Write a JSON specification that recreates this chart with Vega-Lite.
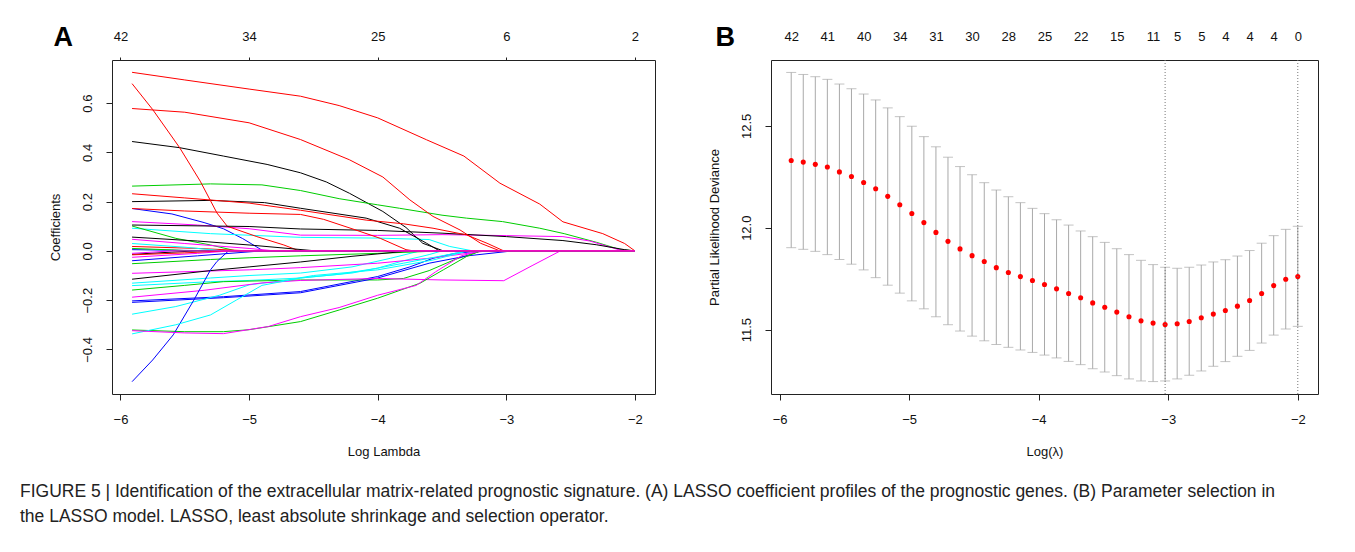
{
  "$schema": "https://vega.github.io/schema/vega-lite/v6.json",
  "background": "white",
  "padding": {"left": 20, "top": 23, "right": 5, "bottom": 10},
  "config": {
    "font": "Liberation Sans",
    "view": {"stroke": "#222", "strokeWidth": 1},
    "axis": {"labelFontSize": 13, "titleFontSize": 13, "titleFontWeight": "normal", "labelColor": "#111", "titleColor": "#111", "tickColor": "#222", "domain": false, "grid": false, "labelFont": "Liberation Sans", "titleFont": "Liberation Sans", "labelOverlap": false}
  },
  "title": {
    "text": ["FIGURE 5 | Identification of the extracellular matrix-related prognostic signature. (A) LASSO coefficient profiles of the prognostic genes. (B) Parameter selection in", "the LASSO model. LASSO, least absolute shrinkage and selection operator."],
    "orient": "bottom", "anchor": "start", "frame": "bounds", "fontSize": 17.5, "fontWeight": "normal", "lineHeight": 25, "offset": 24, "dx": -29, "color": "#222", "font": "Liberation Sans"
  },
  "spacing": 52,
  "datasets": {
    "coef": [
      {"line":"L01","col":"1","lam":-5.91,"coef":0.444},{"line":"L01","col":"1","lam":-5.54,"coef":0.419},{"line":"L01","col":"1","lam":-5.2,"coef":0.385},{"line":"L01","col":"1","lam":-4.86,"coef":0.351},{"line":"L01","col":"1","lam":-4.6,"coef":0.317},{"line":"L01","col":"1","lam":-4.4,"coef":0.28},{"line":"L01","col":"1","lam":-4.22,"coef":0.234},{"line":"L01","col":"1","lam":-3.96,"coef":0.16},{"line":"L01","col":"1","lam":-3.78,"coef":0.095},{"line":"L01","col":"1","lam":-3.65,"coef":0.031},{"line":"L01","col":"1","lam":-3.49,"coef":0},{"line":"L01","col":"1","lam":-2,"coef":0},
      {"line":"L02","col":"2","lam":-5.91,"coef":0.725},{"line":"L02","col":"2","lam":-5.5,"coef":0.694},{"line":"L02","col":"2","lam":-5.0,"coef":0.657},{"line":"L02","col":"2","lam":-4.6,"coef":0.628},{"line":"L02","col":"2","lam":-4.3,"coef":0.59},{"line":"L02","col":"2","lam":-4.0,"coef":0.54},{"line":"L02","col":"2","lam":-3.62,"coef":0.451},{"line":"L02","col":"2","lam":-3.33,"coef":0.385},{"line":"L02","col":"2","lam":-3.05,"coef":0.275},{"line":"L02","col":"2","lam":-2.74,"coef":0.19},{"line":"L02","col":"2","lam":-2.56,"coef":0.118},{"line":"L02","col":"2","lam":-2.25,"coef":0.07},{"line":"L02","col":"2","lam":-2.08,"coef":0.03},{"line":"L02","col":"2","lam":-2,"coef":0},
      {"line":"L03","col":"3","lam":-5.91,"coef":0.263},{"line":"L03","col":"3","lam":-5.3,"coef":0.272},{"line":"L03","col":"3","lam":-4.9,"coef":0.268},{"line":"L03","col":"3","lam":-4.6,"coef":0.245},{"line":"L03","col":"3","lam":-4.3,"coef":0.212},{"line":"L03","col":"3","lam":-4.0,"coef":0.187},{"line":"L03","col":"3","lam":-3.83,"coef":0.173},{"line":"L03","col":"3","lam":-3.5,"coef":0.145},{"line":"L03","col":"3","lam":-3.31,"coef":0.133},{"line":"L03","col":"3","lam":-3.03,"coef":0.119},{"line":"L03","col":"3","lam":-2.74,"coef":0.092},{"line":"L03","col":"3","lam":-2.55,"coef":0.07},{"line":"L03","col":"3","lam":-2.3,"coef":0.035},{"line":"L03","col":"3","lam":-2.12,"coef":0.006},{"line":"L03","col":"3","lam":-2,"coef":0},
      {"line":"L04","col":"4","lam":-5.91,"coef":0.172},{"line":"L04","col":"4","lam":-5.6,"coef":0.15},{"line":"L04","col":"4","lam":-5.35,"coef":0.115},{"line":"L04","col":"4","lam":-5.2,"coef":0.09},{"line":"L04","col":"4","lam":-5.05,"coef":0.05},{"line":"L04","col":"4","lam":-4.89,"coef":0},{"line":"L04","col":"4","lam":-2,"coef":0},
      {"line":"L05","col":"5","lam":-5.91,"coef":0.092},{"line":"L05","col":"5","lam":-5.3,"coef":0.07},{"line":"L05","col":"5","lam":-4.6,"coef":0.055},{"line":"L05","col":"5","lam":-4.0,"coef":0.052},{"line":"L05","col":"5","lam":-3.6,"coef":0.046},{"line":"L05","col":"5","lam":-3.44,"coef":0.018},{"line":"L05","col":"5","lam":-3.26,"coef":0},{"line":"L05","col":"5","lam":-2,"coef":0},
      {"line":"L06","col":"6","lam":-5.91,"coef":0.119},{"line":"L06","col":"6","lam":-5.4,"coef":0.105},{"line":"L06","col":"6","lam":-5.0,"coef":0.09},{"line":"L06","col":"6","lam":-4.6,"coef":0.064},{"line":"L06","col":"6","lam":-4.0,"coef":0.063},{"line":"L06","col":"6","lam":-3.5,"coef":0.066},{"line":"L06","col":"6","lam":-3.0,"coef":0.062},{"line":"L06","col":"6","lam":-2.56,"coef":0.058},{"line":"L06","col":"6","lam":-2.35,"coef":0.04},{"line":"L06","col":"6","lam":-2.12,"coef":0.004},{"line":"L06","col":"6","lam":-2,"coef":0},
      {"line":"L07","col":"1","lam":-5.91,"coef":0.2},{"line":"L07","col":"1","lam":-5.3,"coef":0.205},{"line":"L07","col":"1","lam":-4.88,"coef":0.196},{"line":"L07","col":"1","lam":-4.6,"coef":0.173},{"line":"L07","col":"1","lam":-4.09,"coef":0.133},{"line":"L07","col":"1","lam":-3.83,"coef":0.092},{"line":"L07","col":"1","lam":-3.62,"coef":0.031},{"line":"L07","col":"1","lam":-3.52,"coef":0},{"line":"L07","col":"1","lam":-2,"coef":0},
      {"line":"L08","col":"2","lam":-5.91,"coef":0.679},{"line":"L08","col":"2","lam":-5.75,"coef":0.574},{"line":"L08","col":"2","lam":-5.54,"coef":0.419},{"line":"L08","col":"2","lam":-5.38,"coef":0.283},{"line":"L08","col":"2","lam":-5.25,"coef":0.154},{"line":"L08","col":"2","lam":-5.17,"coef":0.1},{"line":"L08","col":"2","lam":-4.94,"coef":0.058},{"line":"L08","col":"2","lam":-4.73,"coef":0.024},{"line":"L08","col":"2","lam":-4.61,"coef":0},{"line":"L08","col":"2","lam":-2,"coef":0},
      {"line":"L09","col":"3","lam":-5.91,"coef":0.101},{"line":"L09","col":"3","lam":-5.57,"coef":0.051},{"line":"L09","col":"3","lam":-5.3,"coef":0.024},{"line":"L09","col":"3","lam":-5.1,"coef":0},{"line":"L09","col":"3","lam":-2,"coef":0},
      {"line":"L10","col":"4","lam":-5.91,"coef":0.005},{"line":"L10","col":"4","lam":-5.5,"coef":0.002},{"line":"L10","col":"4","lam":-5.2,"coef":0},{"line":"L10","col":"4","lam":-2,"coef":0},
      {"line":"L11","col":"5","lam":-5.91,"coef":-0.131},{"line":"L11","col":"5","lam":-5.3,"coef":-0.11},{"line":"L11","col":"5","lam":-5.0,"coef":-0.1},{"line":"L11","col":"5","lam":-4.6,"coef":-0.09},{"line":"L11","col":"5","lam":-4.2,"coef":-0.065},{"line":"L11","col":"5","lam":-3.9,"coef":-0.03},{"line":"L11","col":"5","lam":-3.67,"coef":0},{"line":"L11","col":"5","lam":-2,"coef":0},
      {"line":"L12","col":"6","lam":-5.91,"coef":0.047},{"line":"L12","col":"6","lam":-5.5,"coef":0.03},{"line":"L12","col":"6","lam":-5.0,"coef":0.01},{"line":"L12","col":"6","lam":-4.8,"coef":0},{"line":"L12","col":"6","lam":-2,"coef":0},
      {"line":"L13","col":"1","lam":-5.91,"coef":0.105},{"line":"L13","col":"1","lam":-5.0,"coef":0.099},{"line":"L13","col":"1","lam":-4.6,"coef":0.089},{"line":"L13","col":"1","lam":-4.0,"coef":0.083},{"line":"L13","col":"1","lam":-3.5,"coef":0.072},{"line":"L13","col":"1","lam":-3.0,"coef":0.058},{"line":"L13","col":"1","lam":-2.56,"coef":0.042},{"line":"L13","col":"1","lam":-2.3,"coef":0.025},{"line":"L13","col":"1","lam":-2.08,"coef":0.005},{"line":"L13","col":"1","lam":-2,"coef":0},
      {"line":"L14","col":"2","lam":-5.91,"coef":0.578},{"line":"L14","col":"2","lam":-5.5,"coef":0.563},{"line":"L14","col":"2","lam":-5.0,"coef":0.52},{"line":"L14","col":"2","lam":-4.6,"coef":0.452},{"line":"L14","col":"2","lam":-4.22,"coef":0.37},{"line":"L14","col":"2","lam":-3.96,"coef":0.3},{"line":"L14","col":"2","lam":-3.75,"coef":0.207},{"line":"L14","col":"2","lam":-3.57,"coef":0.14},{"line":"L14","col":"2","lam":-3.36,"coef":0.085},{"line":"L14","col":"2","lam":-3.2,"coef":0.031},{"line":"L14","col":"2","lam":-3.05,"coef":0},{"line":"L14","col":"2","lam":-2,"coef":0},
      {"line":"L15","col":"3","lam":-5.91,"coef":-0.052},{"line":"L15","col":"3","lam":-5.3,"coef":-0.035},{"line":"L15","col":"3","lam":-5.0,"coef":-0.028},{"line":"L15","col":"3","lam":-4.6,"coef":-0.02},{"line":"L15","col":"3","lam":-4.0,"coef":-0.01},{"line":"L15","col":"3","lam":-3.5,"coef":0},{"line":"L15","col":"3","lam":-2,"coef":0},
      {"line":"L16","col":"4","lam":-5.91,"coef":-0.203},{"line":"L16","col":"4","lam":-5.2,"coef":-0.186},{"line":"L16","col":"4","lam":-4.6,"coef":-0.165},{"line":"L16","col":"4","lam":-4.0,"coef":-0.104},{"line":"L16","col":"4","lam":-3.75,"coef":-0.065},{"line":"L16","col":"4","lam":-3.57,"coef":-0.03},{"line":"L16","col":"4","lam":-3.4,"coef":-0.01},{"line":"L16","col":"4","lam":-3.2,"coef":0},{"line":"L16","col":"4","lam":-2,"coef":0},
      {"line":"L17","col":"5","lam":-5.91,"coef":-0.141},{"line":"L17","col":"5","lam":-5.3,"coef":-0.125},{"line":"L17","col":"5","lam":-5.0,"coef":-0.12},{"line":"L17","col":"5","lam":-4.6,"coef":-0.11},{"line":"L17","col":"5","lam":-4.3,"coef":-0.095},{"line":"L17","col":"5","lam":-4.0,"coef":-0.07},{"line":"L17","col":"5","lam":-3.8,"coef":-0.04},{"line":"L17","col":"5","lam":-3.6,"coef":-0.015},{"line":"L17","col":"5","lam":-3.5,"coef":0},{"line":"L17","col":"5","lam":-2,"coef":0},
      {"line":"L18","col":"6","lam":-5.91,"coef":-0.091},{"line":"L18","col":"6","lam":-5.0,"coef":-0.077},{"line":"L18","col":"6","lam":-4.6,"coef":-0.068},{"line":"L18","col":"6","lam":-4.0,"coef":-0.05},{"line":"L18","col":"6","lam":-3.6,"coef":-0.03},{"line":"L18","col":"6","lam":-3.3,"coef":-0.01},{"line":"L18","col":"6","lam":-3.15,"coef":0},{"line":"L18","col":"6","lam":-2,"coef":0},
      {"line":"L19","col":"1","lam":-5.91,"coef":0.056},{"line":"L19","col":"1","lam":-5.4,"coef":0.04},{"line":"L19","col":"1","lam":-5.0,"coef":0.024},{"line":"L19","col":"1","lam":-4.48,"coef":0},{"line":"L19","col":"1","lam":-2,"coef":0},
      {"line":"L20","col":"2","lam":-5.91,"coef":0.232},{"line":"L20","col":"2","lam":-5.5,"coef":0.215},{"line":"L20","col":"2","lam":-5.0,"coef":0.194},{"line":"L20","col":"2","lam":-4.6,"coef":0.165},{"line":"L20","col":"2","lam":-4.09,"coef":0.125},{"line":"L20","col":"2","lam":-3.8,"coef":0.11},{"line":"L20","col":"2","lam":-3.57,"coef":0.092},{"line":"L20","col":"2","lam":-3.31,"coef":0.065},{"line":"L20","col":"2","lam":-3.15,"coef":0.031},{"line":"L20","col":"2","lam":-3.02,"coef":0},{"line":"L20","col":"2","lam":-2,"coef":0},
      {"line":"L21","col":"3","lam":-5.91,"coef":-0.159},{"line":"L21","col":"3","lam":-5.5,"coef":-0.14},{"line":"L21","col":"3","lam":-5.2,"coef":-0.125},{"line":"L21","col":"3","lam":-4.6,"coef":-0.118},{"line":"L21","col":"3","lam":-4.0,"coef":-0.118},{"line":"L21","col":"3","lam":-3.8,"coef":-0.112},{"line":"L21","col":"3","lam":-3.6,"coef":-0.08},{"line":"L21","col":"3","lam":-3.4,"coef":-0.035},{"line":"L21","col":"3","lam":-3.2,"coef":0},{"line":"L21","col":"3","lam":-2,"coef":0},
      {"line":"L22","col":"4","lam":-5.91,"coef":-0.209},{"line":"L22","col":"4","lam":-5.2,"coef":-0.19},{"line":"L22","col":"4","lam":-4.6,"coef":-0.17},{"line":"L22","col":"4","lam":-4.0,"coef":-0.11},{"line":"L22","col":"4","lam":-3.6,"coef":-0.05},{"line":"L22","col":"4","lam":-3.3,"coef":-0.02},{"line":"L22","col":"4","lam":-2.95,"coef":0},{"line":"L22","col":"4","lam":-2,"coef":0},
      {"line":"L23","col":"5","lam":-5.91,"coef":-0.257},{"line":"L23","col":"5","lam":-5.57,"coef":-0.226},{"line":"L23","col":"5","lam":-5.23,"coef":-0.18},{"line":"L23","col":"5","lam":-5.0,"coef":-0.138},{"line":"L23","col":"5","lam":-4.7,"coef":-0.118},{"line":"L23","col":"5","lam":-4.5,"coef":-0.1},{"line":"L23","col":"5","lam":-4.0,"coef":-0.077},{"line":"L23","col":"5","lam":-3.57,"coef":-0.037},{"line":"L23","col":"5","lam":-3.3,"coef":0},{"line":"L23","col":"5","lam":-2,"coef":0},
      {"line":"L24","col":"6","lam":-5.91,"coef":-0.188},{"line":"L24","col":"6","lam":-5.35,"coef":-0.16},{"line":"L24","col":"6","lam":-4.9,"coef":-0.13},{"line":"L24","col":"6","lam":-4.6,"coef":-0.12},{"line":"L24","col":"6","lam":-4.0,"coef":-0.112},{"line":"L24","col":"6","lam":-3.5,"coef":-0.118},{"line":"L24","col":"6","lam":-3.02,"coef":-0.121},{"line":"L24","col":"6","lam":-2.8,"coef":-0.06},{"line":"L24","col":"6","lam":-2.58,"coef":0},{"line":"L24","col":"6","lam":-2,"coef":0},
      {"line":"L25","col":"1","lam":-5.91,"coef":-0.115},{"line":"L25","col":"1","lam":-5.3,"coef":-0.08},{"line":"L25","col":"1","lam":-5.0,"coef":-0.065},{"line":"L25","col":"1","lam":-4.6,"coef":-0.045},{"line":"L25","col":"1","lam":-4.2,"coef":-0.022},{"line":"L25","col":"1","lam":-3.75,"coef":0},{"line":"L25","col":"1","lam":-2,"coef":0},
      {"line":"L26","col":"2","lam":-5.91,"coef":0.018},{"line":"L26","col":"2","lam":-5.4,"coef":0.01},{"line":"L26","col":"2","lam":-5.0,"coef":0},{"line":"L26","col":"2","lam":-2,"coef":0},
      {"line":"L27","col":"3","lam":-5.91,"coef":-0.321},{"line":"L27","col":"3","lam":-5.5,"coef":-0.328},{"line":"L27","col":"3","lam":-5.2,"coef":-0.328},{"line":"L27","col":"3","lam":-5.0,"coef":-0.32},{"line":"L27","col":"3","lam":-4.6,"coef":-0.287},{"line":"L27","col":"3","lam":-4.3,"coef":-0.24},{"line":"L27","col":"3","lam":-4.0,"coef":-0.192},{"line":"L27","col":"3","lam":-3.67,"coef":-0.131},{"line":"L27","col":"3","lam":-3.49,"coef":-0.077},{"line":"L27","col":"3","lam":-3.31,"coef":-0.023},{"line":"L27","col":"3","lam":-3.2,"coef":0},{"line":"L27","col":"3","lam":-2,"coef":0},
      {"line":"L28","col":"4","lam":-5.91,"coef":-0.531},{"line":"L28","col":"4","lam":-5.75,"coef":-0.443},{"line":"L28","col":"4","lam":-5.59,"coef":-0.341},{"line":"L28","col":"4","lam":-5.43,"coef":-0.2},{"line":"L28","col":"4","lam":-5.3,"coef":-0.077},{"line":"L28","col":"4","lam":-5.25,"coef":-0.043},{"line":"L28","col":"4","lam":-5.16,"coef":0},{"line":"L28","col":"4","lam":-2,"coef":0},
      {"line":"L29","col":"5","lam":-5.91,"coef":-0.337},{"line":"L29","col":"5","lam":-5.57,"coef":-0.3},{"line":"L29","col":"5","lam":-5.3,"coef":-0.26},{"line":"L29","col":"5","lam":-5.1,"coef":-0.2},{"line":"L29","col":"5","lam":-4.9,"coef":-0.14},{"line":"L29","col":"5","lam":-4.6,"coef":-0.11},{"line":"L29","col":"5","lam":-4.2,"coef":-0.09},{"line":"L29","col":"5","lam":-3.8,"coef":-0.05},{"line":"L29","col":"5","lam":-3.5,"coef":-0.02},{"line":"L29","col":"5","lam":-3.3,"coef":0},{"line":"L29","col":"5","lam":-2,"coef":0},
      {"line":"L30","col":"6","lam":-5.91,"coef":-0.324},{"line":"L30","col":"6","lam":-5.5,"coef":-0.333},{"line":"L30","col":"6","lam":-5.2,"coef":-0.336},{"line":"L30","col":"6","lam":-4.85,"coef":-0.307},{"line":"L30","col":"6","lam":-4.6,"coef":-0.267},{"line":"L30","col":"6","lam":-4.3,"coef":-0.23},{"line":"L30","col":"6","lam":-4.0,"coef":-0.18},{"line":"L30","col":"6","lam":-3.7,"coef":-0.14},{"line":"L30","col":"6","lam":-3.55,"coef":-0.085},{"line":"L30","col":"6","lam":-3.35,"coef":-0.02},{"line":"L30","col":"6","lam":-3.2,"coef":0},{"line":"L30","col":"6","lam":-2,"coef":0},
      {"line":"L31","col":"1","lam":-5.91,"coef":-0.014},{"line":"L31","col":"1","lam":-5.6,"coef":-0.005},{"line":"L31","col":"1","lam":-5.4,"coef":0},{"line":"L31","col":"1","lam":-2,"coef":0},
      {"line":"L32","col":"2","lam":-5.91,"coef":0.172},{"line":"L32","col":"2","lam":-5.5,"coef":0.162},{"line":"L32","col":"2","lam":-5.0,"coef":0.153},{"line":"L32","col":"2","lam":-4.6,"coef":0.148},{"line":"L32","col":"2","lam":-4.42,"coef":0.128},{"line":"L32","col":"2","lam":-4.2,"coef":0.09},{"line":"L32","col":"2","lam":-3.98,"coef":0.051},{"line":"L32","col":"2","lam":-3.78,"coef":0.005},{"line":"L32","col":"2","lam":-3.72,"coef":0},{"line":"L32","col":"2","lam":-2,"coef":0},
      {"line":"L33","col":"3","lam":-5.91,"coef":0.01},{"line":"L33","col":"3","lam":-5.6,"coef":0.004},{"line":"L33","col":"3","lam":-5.45,"coef":0},{"line":"L33","col":"3","lam":-2,"coef":0},
      {"line":"L34","col":"4","lam":-5.91,"coef":-0.04},{"line":"L34","col":"4","lam":-5.4,"coef":-0.02},{"line":"L34","col":"4","lam":-4.9,"coef":0},{"line":"L34","col":"4","lam":-2,"coef":0},
      {"line":"L35","col":"5","lam":-5.91,"coef":0.03},{"line":"L35","col":"5","lam":-5.5,"coef":0.015},{"line":"L35","col":"5","lam":-5.2,"coef":0},{"line":"L35","col":"5","lam":-2,"coef":0},
      {"line":"L36","col":"6","lam":-5.91,"coef":-0.026},{"line":"L36","col":"6","lam":-5.4,"coef":-0.01},{"line":"L36","col":"6","lam":-5.15,"coef":0},{"line":"L36","col":"6","lam":-2,"coef":0},
      {"line":"L37","col":"2","lam":-5.91,"coef":-0.016},{"line":"L37","col":"2","lam":-5.5,"coef":-0.008},{"line":"L37","col":"2","lam":-5.2,"coef":0},{"line":"L37","col":"2","lam":-2,"coef":0},
      {"line":"L38","col":"6","lam":-5.91,"coef":-0.01},{"line":"L38","col":"6","lam":-5.6,"coef":0},{"line":"L38","col":"6","lam":-2,"coef":0}
    ],
    "dfA": [
      {"lam": -6, "df": 42}, {"lam": -5, "df": 34}, {"lam": -4, "df": 25}, {"lam": -3, "df": 6}, {"lam": -2, "df": 2}
    ],
    "cv": [
      {"lam":-5.910,"dev":12.330,"lo":11.902,"hi":12.762},
      {"lam":-5.817,"dev":12.322,"lo":11.894,"hi":12.752},
      {"lam":-5.724,"dev":12.311,"lo":11.884,"hi":12.741},
      {"lam":-5.631,"dev":12.298,"lo":11.868,"hi":12.728},
      {"lam":-5.538,"dev":12.274,"lo":11.844,"hi":12.705},
      {"lam":-5.445,"dev":12.251,"lo":11.821,"hi":12.682},
      {"lam":-5.351,"dev":12.222,"lo":11.793,"hi":12.656},
      {"lam":-5.258,"dev":12.191,"lo":11.755,"hi":12.627},
      {"lam":-5.165,"dev":12.154,"lo":11.718,"hi":12.588},
      {"lam":-5.072,"dev":12.113,"lo":11.679,"hi":12.545},
      {"lam":-4.979,"dev":12.070,"lo":11.641,"hi":12.498},
      {"lam":-4.886,"dev":12.025,"lo":11.602,"hi":12.447},
      {"lam":-4.793,"dev":11.977,"lo":11.563,"hi":12.397},
      {"lam":-4.700,"dev":11.933,"lo":11.524,"hi":12.346},
      {"lam":-4.607,"dev":11.896,"lo":11.493,"hi":12.300},
      {"lam":-4.514,"dev":11.863,"lo":11.468,"hi":12.260},
      {"lam":-4.420,"dev":11.834,"lo":11.445,"hi":12.221},
      {"lam":-4.327,"dev":11.804,"lo":11.427,"hi":12.185},
      {"lam":-4.234,"dev":11.780,"lo":11.413,"hi":12.152},
      {"lam":-4.141,"dev":11.760,"lo":11.400,"hi":12.123},
      {"lam":-4.048,"dev":11.741,"lo":11.388,"hi":12.095},
      {"lam":-3.955,"dev":11.721,"lo":11.375,"hi":12.069},
      {"lam":-3.862,"dev":11.700,"lo":11.361,"hi":12.039},
      {"lam":-3.769,"dev":11.677,"lo":11.344,"hi":12.013},
      {"lam":-3.676,"dev":11.656,"lo":11.328,"hi":11.984},
      {"lam":-3.583,"dev":11.631,"lo":11.308,"hi":11.956},
      {"lam":-3.490,"dev":11.610,"lo":11.292,"hi":11.928},
      {"lam":-3.397,"dev":11.586,"lo":11.274,"hi":11.897},
      {"lam":-3.303,"dev":11.563,"lo":11.258,"hi":11.868},
      {"lam":-3.210,"dev":11.543,"lo":11.248,"hi":11.840},
      {"lam":-3.117,"dev":11.532,"lo":11.245,"hi":11.819},
      {"lam":-3.024,"dev":11.525,"lo":11.248,"hi":11.806},
      {"lam":-2.931,"dev":11.529,"lo":11.258,"hi":11.801},
      {"lam":-2.838,"dev":11.540,"lo":11.276,"hi":11.806},
      {"lam":-2.745,"dev":11.558,"lo":11.297,"hi":11.817},
      {"lam":-2.652,"dev":11.576,"lo":11.320,"hi":11.832},
      {"lam":-2.559,"dev":11.594,"lo":11.343,"hi":11.843},
      {"lam":-2.466,"dev":11.615,"lo":11.369,"hi":11.861},
      {"lam":-2.372,"dev":11.643,"lo":11.398,"hi":11.888},
      {"lam":-2.279,"dev":11.677,"lo":11.434,"hi":11.924},
      {"lam":-2.186,"dev":11.716,"lo":11.473,"hi":11.961},
      {"lam":-2.093,"dev":11.747,"lo":11.503,"hi":11.992},
      {"lam":-2.000,"dev":11.760,"lo":11.516,"hi":12.007}
    ],
    "vl": [{"lam": -3.024, "kind": "lambda.min"}, {"lam": -2.0, "kind": "lambda.1se"}]
  },
  "hconcat": [
    {
      "width": 543, "height": 334,
      "title": {"text": "A", "anchor": "start", "frame": "bounds", "fontSize": 27, "fontWeight": "bold", "font": "Liberation Sans", "offset": -22, "dx": 4, "color": "#000"},
      "layer": [
        {
          "data": {"name": "coef"},
          "mark": {"type": "line", "strokeWidth": 1, "interpolate": "linear"},
          "encoding": {
            "x": {"field": "lam", "type": "quantitative", "scale": {"domain": [-6.066, -1.844], "nice": false, "zero": false},
                  "axis": {"orient": "bottom", "values": [-6, -5, -4, -3, -2], "title": "Log Lambda", "tickSize": 6, "labelPadding": 13, "titlePadding": 19}},
            "y": {"field": "coef", "type": "quantitative", "scale": {"domain": [-0.581, 0.775], "nice": false, "zero": false},
                  "axis": {"values": [-0.4, -0.2, 0, 0.2, 0.4, 0.6], "format": ".1f", "labelAngle": 270, "labelAlign": "center", "labelBaseline": "bottom", "tickSize": 6, "labelPadding": 11.5, "title": "Coefficients", "titlePadding": 19}},
            "color": {"field": "col", "type": "nominal", "scale": {"domain": ["1", "2", "3", "4", "5", "6"], "range": ["#000000", "#FF0000", "#00CD00", "#0000FF", "#00FFFF", "#FF00FF"]}, "legend": null},
            "detail": {"field": "line", "type": "nominal"}
          }
        },
        {
          "data": {"name": "dfA"},
          "mark": {"type": "rule", "strokeOpacity": 0},
          "encoding": {
            "x": {"field": "lam", "type": "quantitative", "scale": {"domain": [-6.066, -1.844], "nice": false, "zero": false},
                  "axis": {"orient": "top", "values": [-6, -5, -4, -3, -2], "labelExpr": "['42','34','25','6','2'][indexof([-6,-5,-4,-3,-2], datum.value)]", "title": null, "tickSize": 3, "labelPadding": 14}}
          }
        }
      ],
      "resolve": {"axis": {"x": "independent"}}
    },
    {
      "width": 547, "height": 334,
      "title": {"text": "B", "anchor": "start", "frame": "bounds", "fontSize": 27, "fontWeight": "bold", "font": "Liberation Sans", "offset": -22, "dx": 7, "color": "#000"},
      "layer": [
        {
          "data": {"name": "cv"},
          "mark": {"type": "rule", "color": "#A9A9A9", "strokeWidth": 1},
          "encoding": {
            "x": {"field": "lam", "type": "quantitative", "scale": {"domain": [-6.066, -1.844], "nice": false, "zero": false},
                  "axis": {"orient": "bottom", "values": [-6, -5, -4, -3, -2], "title": "Log(λ)", "tickSize": 6, "labelPadding": 13, "titlePadding": 19}},
            "y": {"field": "lo", "type": "quantitative", "scale": {"domain": [11.184, 12.823], "nice": false, "zero": false},
                  "axis": {"values": [11.5, 12.0, 12.5], "format": ".1f", "labelAngle": 270, "labelAlign": "center", "labelBaseline": "bottom", "tickSize": 6, "labelPadding": 11.5, "title": "Partial Likelihood Deviance", "titlePadding": 19}},
            "y2": {"field": "hi"}
          }
        },
        {
          "data": {"name": "cv"},
          "mark": {"type": "tick", "orient": "horizontal", "size": 10, "thickness": 1, "color": "#A9A9A9"},
          "encoding": {
            "x": {"field": "lam", "type": "quantitative", "axis": null},
            "y": {"field": "hi", "type": "quantitative"}
          }
        },
        {
          "data": {"name": "cv"},
          "mark": {"type": "tick", "orient": "horizontal", "size": 10, "thickness": 1, "color": "#A9A9A9"},
          "encoding": {
            "x": {"field": "lam", "type": "quantitative", "axis": null},
            "y": {"field": "lo", "type": "quantitative"}
          }
        },
        {
          "data": {"name": "cv"},
          "mark": {"type": "circle", "size": 26, "color": "#FF0000", "opacity": 1},
          "encoding": {
            "x": {"field": "lam", "type": "quantitative", "axis": null},
            "y": {"field": "dev", "type": "quantitative"}
          }
        },
        {
          "data": {"name": "vl"},
          "mark": {"type": "rule", "color": "#777", "strokeWidth": 1, "strokeDash": [1, 2]},
          "encoding": {
            "x": {"field": "lam", "type": "quantitative", "scale": {"domain": [-6.066, -1.844], "nice": false, "zero": false},
                  "axis": {"orient": "top", "values": [-5.91, -5.631, -5.351, -5.072, -4.793, -4.514, -4.234, -3.955, -3.676, -3.397, -3.117, -2.931, -2.745, -2.559, -2.372, -2.186, -2], "labelExpr": "['42','41','40','34','31','30','28','25','22','15','11','5','5','4','4','4','0'][indexof([-5.91,-5.631,-5.351,-5.072,-4.793,-4.514,-4.234,-3.955,-3.676,-3.397,-3.117,-2.931,-2.745,-2.559,-2.372,-2.186,-2], datum.value)]", "title": null, "ticks": false, "tickSize": 0, "labelPadding": 17}}
          }
        }
      ],
      "resolve": {"axis": {"x": "independent"}}
    }
  ]
}
